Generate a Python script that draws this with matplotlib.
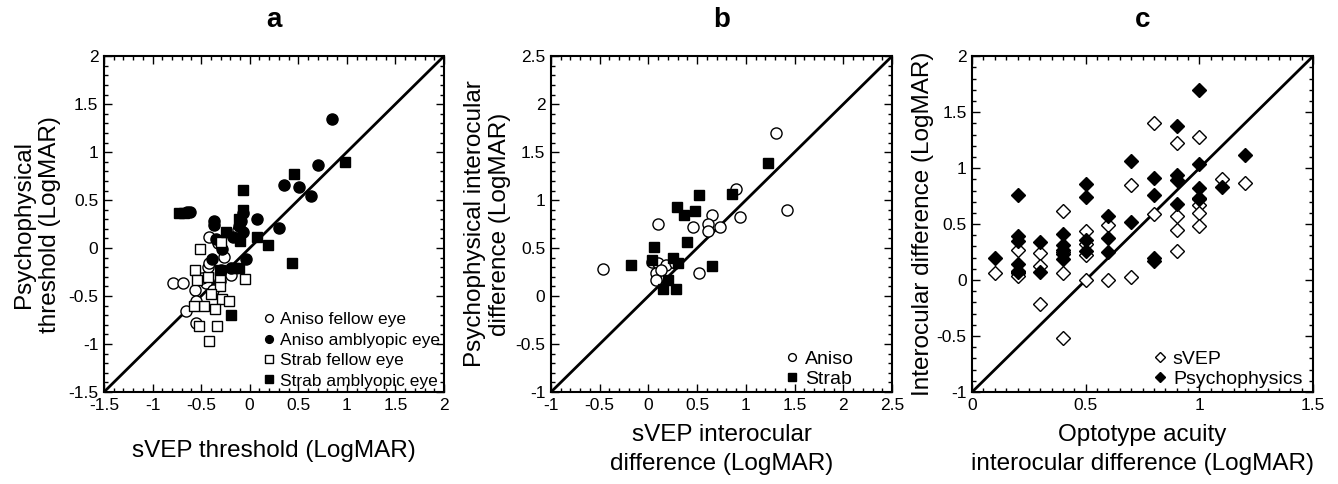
import numpy as np
import matplotlib.pyplot as plt
from matplotlib.ticker import MultipleLocator

plt.rcParams['font.family'] = ['Liberation Sans', 'DejaVu Sans']

# panel a: sVEP threshold vs psychophysical threshold
a_aniso_fellow_x = [-0.79, -0.69, -0.66, -0.55, -0.56, -0.55, -0.45, -0.43, -0.42, -0.26,
                    -0.42, -0.19, -0.31, -0.38, -0.12, -0.33, -0.49]
a_aniso_fellow_y = [-0.36, -0.36, -0.66, -0.78, -0.44, -0.55, -0.36, -0.20, -0.16, -0.09,
                    0.12, -0.28, -0.34, -0.44, 0.19, 0.05, -0.31]
a_aniso_amb_x = [0.85, 0.70, 0.35, 0.51, 0.63, 0.30, 0.08, -0.37, -0.37, -0.65, -0.61,
                 -0.09, -0.07, -0.11, -0.07, -0.35, -0.28, -0.04, -0.39, -0.17, -0.30, -0.19]
a_aniso_amb_y = [1.35, 0.87, 0.66, 0.64, 0.54, 0.21, 0.30, 0.28, 0.24, 0.38, 0.38,
                 0.28, 0.37, 0.23, 0.17, 0.09, -0.01, -0.11, -0.11, 0.12, -0.23, -0.21]
a_strab_fellow_x = [-0.51, -0.30, -0.56, -0.54, -0.31, -0.05, -0.40, -0.28, -0.21, -0.47,
                    -0.36, -0.52, -0.34, -0.42, -0.43, -0.57, -0.31]
a_strab_fellow_y = [-0.01, 0.06, -0.23, -0.33, -0.39, -0.32, -0.48, -0.53, -0.55, -0.60,
                    -0.63, -0.81, -0.81, -0.97, -0.30, -0.60, -0.30]
a_strab_amb_x = [0.98, 0.46, -0.07, -0.07, -0.73, -0.68, -0.24, -0.10, 0.08, 0.19, 0.44,
                 -0.31, -0.16, -0.11, -0.19, -0.11]
a_strab_amb_y = [0.90, 0.77, 0.61, 0.40, 0.37, 0.37, 0.17, 0.07, 0.12, 0.03, -0.16,
                 -0.23, -0.21, -0.21, -0.70, 0.30]

# panel b: interocular differences
b_aniso_x = [1.31, 1.42, 0.90, 0.94, 0.65, 0.46, 0.61, 0.61, 0.73, 0.10, -0.47, 0.04,
             0.10, 0.08, 0.18, 0.27, 0.52, 0.13, 0.08]
b_aniso_y = [1.70, 0.90, 1.12, 0.82, 0.84, 0.72, 0.75, 0.68, 0.72, 0.75, 0.28, 0.36,
             0.34, 0.24, 0.32, 0.34, 0.24, 0.27, 0.17]
b_strab_x = [1.23, 0.86, 0.52, 0.29, 0.36, 0.48, 0.40, 0.06, 0.04, -0.18, 0.25, 0.30,
             0.20, 0.15, 0.28, 0.65]
b_strab_y = [1.39, 1.06, 1.05, 0.93, 0.84, 0.89, 0.56, 0.51, 0.38, 0.32, 0.40, 0.34,
             0.17, 0.07, 0.07, 0.31]

# panel c: optotype acuity interocular difference
c_svep_x = [0.1, 0.2, 0.2, 0.2, 0.2, 0.3, 0.3, 0.3, 0.4, 0.4, 0.4, 0.4,
            0.5, 0.5, 0.5, 0.5, 0.6, 0.6, 0.7, 0.7, 0.8, 0.8,
            0.9, 0.9, 0.9, 0.9, 1.0, 1.0, 1.0, 1.0, 1.1, 1.2]
c_svep_y = [0.06, 0.27, 0.06, 0.04, 0.08, 0.24, 0.13, -0.21, 0.62, 0.06, 0.25, -0.52,
            0.44, 0.32, 0.22, 0.00, 0.49, 0.00, 0.85, 0.03, 1.40, 0.59,
            1.22, 0.57, 0.45, 0.26, 1.28, 0.67, 0.60, 0.48, 0.90, 0.87]
c_psy_x = [0.1, 0.2, 0.2, 0.2, 0.2, 0.2, 0.3, 0.3, 0.4, 0.4, 0.4, 0.4, 0.4,
           0.5, 0.5, 0.5, 0.5, 0.6, 0.6, 0.6, 0.7, 0.7, 0.8, 0.8, 0.8, 0.8,
           0.9, 0.9, 0.9, 0.9, 1.0, 1.0, 1.0, 1.0, 1.0, 1.1, 1.2]
c_psy_y = [0.20, 0.76, 0.39, 0.35, 0.14, 0.07, 0.34, 0.07, 0.41, 0.31, 0.27, 0.23, 0.19,
           0.86, 0.74, 0.36, 0.26, 0.57, 0.38, 0.25, 1.06, 0.52, 0.91, 0.76, 0.20, 0.17,
           1.38, 0.94, 0.89, 0.68, 1.70, 1.04, 0.82, 0.72, 0.73, 0.83, 1.12]

fig = plt.figure(figsize=(13.38, 4.84), dpi=100)
ax_a = fig.add_axes([0.0777, 0.190, 0.2541, 0.694])
ax_b = fig.add_axes([0.4118, 0.190, 0.2549, 0.694])
ax_c = fig.add_axes([0.7265, 0.190, 0.2549, 0.694])

ms = 8
ax_a.plot(a_aniso_fellow_x, a_aniso_fellow_y, 'o', mfc='white', mec='black', ms=ms, mew=1,
          label='Aniso fellow eye')
ax_a.plot(a_aniso_amb_x, a_aniso_amb_y, 'o', mfc='black', mec='black', ms=ms,
          label='Aniso amblyopic eye')
ax_a.plot(a_strab_fellow_x, a_strab_fellow_y, 's', mfc='white', mec='black', ms=7.5, mew=1,
          label='Strab fellow eye')
ax_a.plot(a_strab_amb_x, a_strab_amb_y, 's', mfc='black', mec='black', ms=7.5,
          label='Strab amblyopic eye')

ax_b.plot(b_aniso_x, b_aniso_y, 'o', mfc='white', mec='black', ms=ms, mew=1, label='Aniso')
ax_b.plot(b_strab_x, b_strab_y, 's', mfc='black', mec='black', ms=7.5, label='Strab')

ax_c.plot(c_svep_x, c_svep_y, 'D', mfc='white', mec='black', ms=7, mew=1, label='sVEP')
ax_c.plot(c_psy_x, c_psy_y, 'D', mfc='black', mec='black', ms=7, label='Psychophysics')

limits = {ax_a: ((-1.5, 2), (-1.5, 2)), ax_b: ((-1, 2.5), (-1, 2.5)), ax_c: ((0, 1.5), (-1, 2))}
for ax, (xl, yl) in limits.items():
    # reference line runs corner to corner
    ax.plot(xl, yl, color='black', lw=2, zorder=1)
    ax.set_xlim(xl)
    ax.set_ylim(yl)
    ax.yaxis.set_major_locator(MultipleLocator(0.5))
    ax.yaxis.set_minor_locator(MultipleLocator(0.1))
    ax.xaxis.set_major_locator(MultipleLocator(0.5))
    ax.xaxis.set_minor_locator(MultipleLocator(0.05 if ax is ax_c else 0.1))
    ax.tick_params(which='both', direction='in', top=True, right=True, labelsize=12.5, width=1)
    ax.tick_params(which='major', length=6, pad=4)
    ax.tick_params(which='minor', length=3)
    for s in ax.spines.values():
        s.set_linewidth(1.5)
    ax.xaxis.set_major_formatter(plt.FuncFormatter(lambda v, p: f'{v:g}'))
    ax.yaxis.set_major_formatter(plt.FuncFormatter(lambda v, p: f'{v:g}'))

leg_kw = dict(frameon=False, loc='lower right', handlelength=0.6, handletextpad=0.35,
              borderpad=0.2, markerscale=0.7)
ax_a.legend(fontsize=12.5, labelspacing=0.3, borderaxespad=0.0, **leg_kw)
ax_b.legend(fontsize=14, labelspacing=0.15, borderaxespad=0.0,
            bbox_to_anchor=(0.90, 0.0), **leg_kw)
ax_c.legend(fontsize=14, labelspacing=0.15, borderaxespad=0.0,
            bbox_to_anchor=(0.98, 0.0), **leg_kw)

for ax, t in [(ax_a, 'a'), (ax_b, 'b'), (ax_c, 'c')]:
    ax.set_title(t, fontsize=20, fontweight='bold', pad=21)

ax_a.set_xlabel('sVEP threshold (LogMAR)', fontsize=17.5, labelpad=20)
ax_a.set_ylabel('Psychophysical\nthreshold (LogMAR)', fontsize=17.5, labelpad=5, linespacing=1.25)
ax_b.set_xlabel('sVEP interocular\ndifference (LogMAR)', fontsize=17.5, labelpad=8, linespacing=1.45)
ax_b.set_ylabel('Psychophysical interocular\ndifference (LogMAR)', fontsize=17.5, labelpad=3,
                linespacing=1.2)
ax_c.set_xlabel('Optotype acuity\ninterocular difference (LogMAR)', fontsize=17.5, labelpad=8,
                linespacing=1.45)
ax_c.set_ylabel('Interocular difference (LogMAR)', fontsize=17.5, labelpad=2)

fig.savefig('out.png', dpi=100)
